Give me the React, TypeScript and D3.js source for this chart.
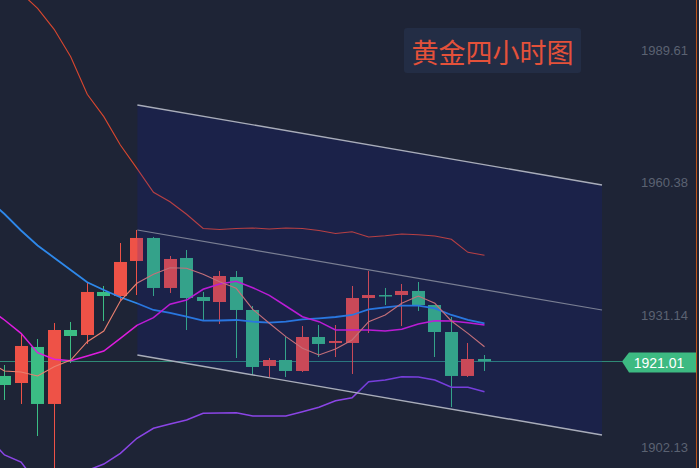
import React from "react";
import * as d3 from "d3";

const W = 699;
const H = 468;

// OHLC candles (4H gold)
const opens = [1917.78, 1916.23, 1924.17, 1911.61, 1927.91, 1926.81, 1936.29, 1935.40, 1943.12, 1948.19, 1937.17, 1943.78, 1935.18, 1934.08, 1939.59, 1932.32, 1919.98, 1921.30, 1918.88, 1926.37, 1925.05, 1925.05, 1934.96, 1935.62, 1935.62, 1936.51, 1933.42, 1927.47, 1917.78, 1921.52];
const highs = [1920.20, 1927.03, 1925.93, 1929.45, 1929.68, 1938.27, 1937.61, 1947.08, 1949.95, 1948.41, 1944.22, 1945.54, 1936.29, 1940.91, 1940.91, 1933.20, 1921.74, 1926.37, 1928.79, 1929.01, 1929.01, 1937.61, 1940.91, 1937.17, 1938.05, 1938.49, 1933.42, 1930.78, 1925.05, 1922.40];
const lows = [1912.49, 1911.61, 1904.55, 1895.96, 1920.64, 1924.83, 1929.90, 1934.52, 1935.62, 1935.40, 1936.07, 1927.91, 1929.90, 1929.23, 1921.74, 1918.00, 1917.56, 1917.56, 1918.66, 1921.96, 1921.96, 1918.22, 1927.25, 1933.42, 1928.79, 1932.10, 1921.96, 1910.94, 1917.56, 1918.88];
const closes = [1915.79, 1924.39, 1911.61, 1927.91, 1926.59, 1936.29, 1935.40, 1942.90, 1948.19, 1937.17, 1943.56, 1934.96, 1934.30, 1939.81, 1932.32, 1919.76, 1921.30, 1918.88, 1926.37, 1924.83, 1925.49, 1934.96, 1935.62, 1935.40, 1936.51, 1933.42, 1927.47, 1917.78, 1921.52, 1921.01];

// Indicators (first value belongs to the bar just before the visible window)
const bollUpper = [2012.0, 2007.02, 2002.17, 1998.80, 1994.17, 1988.14, 1979.85, 1974.92, 1968.68, 1963.54, 1958.26, 1956.18, 1953.41, 1950.28, 1950.06, 1950.28, 1950.39, 1950.17, 1950.39, 1950.28, 1949.84, 1949.18, 1949.57, 1948.41, 1948.69, 1949.07, 1948.91, 1948.63, 1947.90, 1945.03, 1944.37];
const bollMid = [1956.67, 1953.47, 1949.84, 1946.53, 1943.84, 1941.13, 1938.42, 1936.73, 1935.12, 1933.80, 1932.32, 1931.66, 1930.84, 1929.96, 1930.01, 1930.12, 1929.74, 1929.52, 1929.74, 1930.27, 1930.49, 1930.78, 1931.22, 1932.47, 1932.91, 1933.27, 1933.27, 1932.69, 1931.22, 1930.12, 1929.39];
const bollLower = [1904.33, 1900.37, 1898.82, 1893.98, 1893.54, 1894.20, 1896.95, 1898.38, 1900.74, 1904.05, 1906.25, 1907.20, 1908.08, 1909.56, 1909.62, 1909.69, 1908.96, 1908.96, 1908.96, 1909.91, 1910.88, 1912.33, 1912.99, 1916.52, 1916.89, 1917.62, 1917.56, 1916.89, 1915.29, 1915.29, 1914.32];
const ma10 = [1932.76, 1930.12, 1927.18, 1922.91, 1921.46, 1921.15, 1922.18, 1923.28, 1926.08, 1928.95, 1930.62, 1933.58, 1934.52, 1936.88, 1938.05, 1938.64, 1937.23, 1935.56, 1933.20, 1930.84, 1929.74, 1927.91, 1927.91, 1927.91, 1927.69, 1928.07, 1929.23, 1929.96, 1929.90, 1929.52, 1929.01];
const ma5 = [1921.08, 1918.88, 1918.66, 1917.78, 1919.83, 1921.30, 1925.33, 1927.69, 1934.30, 1938.20, 1940.19, 1941.64, 1941.51, 1940.19, 1938.56, 1937.10, 1932.47, 1929.39, 1926.44, 1923.88, 1922.40, 1923.73, 1925.71, 1929.74, 1931.22, 1933.80, 1935.40, 1933.80, 1929.90, 1927.18, 1924.23];

// Axis ticks
const tickValues = [1989.61, 1960.38, 1931.14, 1902.13];
const lastPrice = 1921.01;

// Channel (start/end bar index and prices)
const channelIdx = [8.03, 36.1];
const channelTop = [1977.49, 1959.87];
const channelMid = [1949.95, 1932.32];
const channelBot = [1922.4, 1904.77];

const title = "黄金四小时图";

export default function App() {
  const x = d3.scaleLinear().domain([0, opens.length - 1]).range([4.5, 484.5]);
  const y = d3.scaleLinear().domain([1902.13, 1989.61]).range([447, 50]);
  const bodyW = 13;

  const idx = d3.range(opens.length);
  const mkLine = (arr: number[]) =>
    d3.line<number>().x((_, i) => x(i - 1)).y((d) => y(d))(arr) || "";

  const chLine = (arr: number[]) =>
    `M${x(channelIdx[0])},${y(arr[0])}L${x(channelIdx[1])},${y(arr[1])}`;
  const chPoly = `M${x(channelIdx[0])},${y(channelTop[0])}L${x(channelIdx[1])},${y(channelTop[1])}L${x(channelIdx[1])},${y(channelBot[1])}L${x(channelIdx[0])},${y(channelBot[0])}Z`;

  const up = "#ee5247";
  const down = "#3bbd84";
  const yl = Math.round(y(lastPrice)) + 0.5;

  return (
    <svg
      width={W}
      height={H}
      style={{ position: "fixed", left: 0, top: 0, display: "block", background: "#1e2436" }}
    >
      <rect x={0} y={0} width={W} height={H} fill="#1e2436" />
      {/* last price line */}
      <line x1={0} x2={622} y1={yl} y2={yl} stroke="#2f8a76" strokeWidth={1} />
      {/* candles */}
      {idx.map((i) => {
        const o = opens[i], c = closes[i];
        const col = c > o ? up : down;
        const cx = Math.floor(x(i)) + 0.5;
        const top = y(Math.max(o, c));
        const bot = y(Math.min(o, c));
        return (
          <g key={i}>
            <line x1={cx} x2={cx} y1={y(highs[i])} y2={y(lows[i])} stroke={col} strokeWidth={1} />
            <rect
              x={Math.round(x(i) - bodyW / 2)}
              y={top}
              width={bodyW}
              height={Math.max(1.5, bot - top)}
              fill={col}
            />
          </g>
        );
      })}
      {/* indicators */}
      <path d={mkLine(bollUpper)} fill="none" stroke="#d9472f" strokeWidth={1.1} />
      <path d={mkLine(bollLower)} fill="none" stroke="#8b45e6" strokeWidth={1.5} />
      <path d={mkLine(bollMid)} fill="none" stroke="#2e88ea" strokeWidth={1.8} />
      <path d={mkLine(ma10)} fill="none" stroke="#de1cde" strokeWidth={1.5} />
      <path d={mkLine(ma5)} fill="none" stroke="#ea8070" strokeWidth={1.1} />
      {/* channel */}
      <path d={chPoly} fill="rgba(20,30,170,0.17)" stroke="none" />
      <path d={chLine(channelTop)} stroke="#a9adba" strokeWidth={1.4} fill="none" />
      <path d={chLine(channelMid)} stroke="#7a7f93" strokeWidth={1.2} fill="none" />
      <path d={chLine(channelBot)} stroke="#a9adba" strokeWidth={1.4} fill="none" />
      {/* right axis */}
      <line x1={696.5} x2={696.5} y1={0} y2={H} stroke="#c0561c" strokeWidth={1} />
      {tickValues.map((t) => (
        <text
          key={t}
          x={688}
          y={y(t)}
          textAnchor="end"
          dominantBaseline="central"
          fontFamily="Liberation Sans, Arial, sans-serif"
          fontSize={13}
          fill="#5b6272"
        >
          {t.toFixed(2)}
        </text>
      ))}
      {/* last price label */}
      <path
        d={`M622,${yl}L629,${yl - 9}L696,${yl - 9}L696,${yl + 11}L629,${yl + 11}Z`}
        fill="#3dba82"
      />
      <text
        x={659}
        y={yl + 1}
        textAnchor="middle"
        dominantBaseline="central"
        fontFamily="Liberation Sans, Arial, sans-serif"
        fontSize={14}
        fill="#ffffff"
      >
        {lastPrice.toFixed(2)}
      </text>
      {/* title */}
      <rect x={404} y={28} width={177} height={45} rx={3} fill="#232d45" />
      <text
        x={492.5}
        y={51}
        textAnchor="middle"
        dominantBaseline="central"
        fontFamily="Noto Sans CJK SC, sans-serif"
        fontSize={27}
        fill="#e4513a"
      >
        {title}
      </text>
    </svg>
  );
}
